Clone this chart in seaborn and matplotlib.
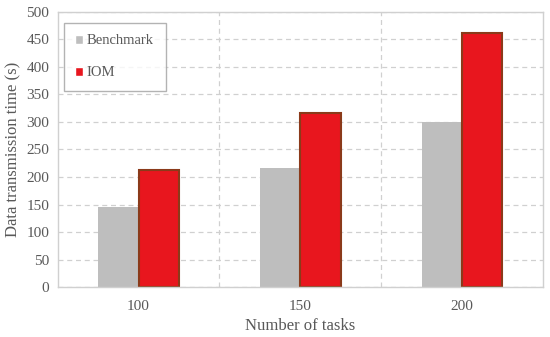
import matplotlib
matplotlib.use("Agg")
import matplotlib.pyplot as plt
import pandas as pd
import seaborn as sns

# ── Data ───────────────────────────────────────────────────────────────────
tasks = ["100", "150", "200"]
benchmark = [145, 216, 300]
iom = [212, 317, 461]

df = pd.DataFrame({
    "tasks": tasks * 2,
    "time": benchmark + iom,
    "method": ["Benchmark"] * 3 + ["IOM"] * 3,
})

# ── Style ──────────────────────────────────────────────────────────────────
sns.set_style("white")
plt.rcParams["font.family"] = ["Liberation Serif", "DejaVu Serif"]
text_c = "#595959"
grid_c = "#d0d0d0"

fig, ax = plt.subplots(figsize=(5.5, 3.37), dpi=100)

sns.barplot(data=df, x="tasks", y="time", hue="method", order=tasks,
            palette={"Benchmark": "#bebebe", "IOM": "#e8161e"},
            saturation=1, width=0.5, ax=ax, legend=True)

# IOM bars get the dark brown rim
for bar in ax.containers[1]:
    bar.set_edgecolor("#8b3a1a")
    bar.set_linewidth(1.5)
for bar in ax.containers[0]:
    bar.set_edgecolor("none")

ax.set_xlim(-0.5, 2.5)
ax.set_ylim(0, 500)
ax.set_yticks(range(0, 501, 50))
ax.set_xticks([0.5, 1.5], minor=True)

ax.grid(axis="y", which="major", linestyle=(0, (4, 3)), color=grid_c, linewidth=0.9)
ax.grid(axis="x", which="minor", linestyle=(0, (4, 3)), color=grid_c, linewidth=0.9)
ax.set_axisbelow(True)

for s in ax.spines.values():
    s.set_color(grid_c)
    s.set_linewidth(1.0)

ax.tick_params(axis="both", which="both", length=0, labelsize=11, colors=text_c)
ax.tick_params(axis="x", pad=9)
ax.tick_params(axis="y", pad=6)
ax.set_xlabel("Number of tasks", fontsize=12, color=text_c, labelpad=4)
ax.set_ylabel("Data transmission time (s)", fontsize=12, color=text_c)

leg = ax.legend(loc="upper left", bbox_to_anchor=(0.012, 0.96), fancybox=False,
                edgecolor="#a0a0a0", fontsize=10.5, handlelength=0.55, handleheight=0.55,
                handletextpad=0.25, labelspacing=1.3, borderpad=0.8, borderaxespad=0.0)
for t in leg.get_texts():
    t.set_color(text_c)
leg.get_frame().set_linewidth(1.0)

fig.subplots_adjust(left=0.105, right=0.987, top=0.965, bottom=0.148)
fig.savefig("out.png", dpi=100)
